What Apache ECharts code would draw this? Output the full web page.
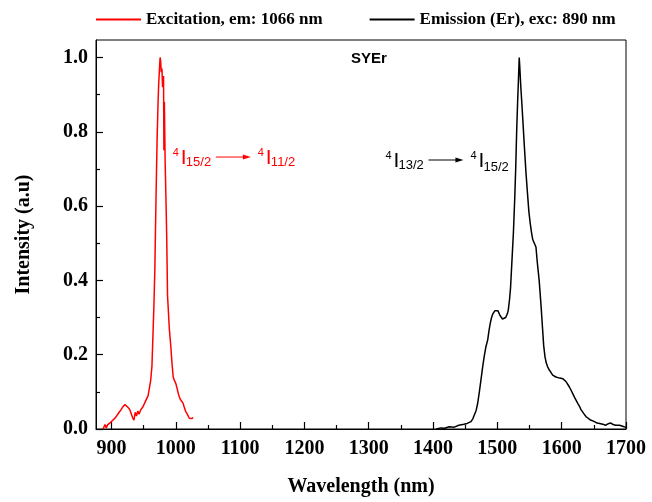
<!DOCTYPE html>
<html>
<head>
<meta charset="utf-8">
<script src="https://cdn.jsdelivr.net/npm/echarts@6/dist/echarts.min.js"></script>
<style>
  html, body { margin: 0; padding: 0; background: #fff; }
  #chart { width: 652px; height: 502px; }
</style>
</head>
<body>
<div id="chart"></div>
<script>
// excitation spectrum (em: 1066 nm)
const excWavelength = [887, 890, 892, 894, 897, 900, 903, 906, 909, 912, 915, 918, 921, 924, 927, 929, 931, 933, 935, 937,
  939, 941, 943, 945, 947, 949, 951, 953, 955, 957, 959, 961, 963, 964.5, 966, 967.5, 968.5, 969.5, 971, 972.5,
  973.5, 975, 975.7, 976.5, 977.5, 978.5, 979.5, 981, 981.6, 982.3, 983.5, 985, 986, 987.2, 990, 992.4, 994, 996, 998, 1000,
  1002, 1004, 1005.5, 1007, 1009, 1011.5, 1013, 1015.5, 1018, 1021, 1023.5, 1025, 1027];
const excIntensity = [0.0, 0.012, 0.003, 0.011, 0.008, 0.02, 0.018, 0.03, 0.035, 0.045, 0.052, 0.06, 0.066, 0.062, 0.056, 0.05, 0.045, 0.03, 0.024, 0.045,
  0.035, 0.048, 0.04, 0.05, 0.045, 0.06, 0.062, 0.075, 0.08, 0.09, 0.11, 0.13, 0.17, 0.25, 0.33, 0.43, 0.54, 0.64, 0.78, 0.88,
  0.93, 0.98, 1.0, 0.99, 0.96, 0.97, 0.92, 0.95, 0.75, 0.88, 0.72, 0.6, 0.51, 0.36, 0.27, 0.22, 0.18, 0.14, 0.13, 0.123,
  0.11, 0.095, 0.087, 0.08, 0.075, 0.069, 0.06, 0.047, 0.04, 0.029, 0.024, 0.028, 0.031];

// emission spectrum (Er, exc: 890 nm)
const emWavelength = [1405, 1412, 1418, 1425, 1433, 1440, 1448, 1453, 1459, 1462, 1464, 1467, 1469.5, 1472, 1474.5, 1477, 1479.5, 1482, 1485, 1487,
  1489, 1491, 1493, 1496, 1499, 1501, 1503.5, 1505.5, 1508, 1510.5, 1513, 1515.5, 1517, 1519, 1520.5, 1522, 1523.5, 1525, 1527, 1528.5,
  1530, 1531.5, 1533, 1534, 1535, 1536.5, 1538.3, 1540, 1542, 1544.5, 1547, 1549, 1551, 1553, 1555, 1557, 1560, 1562, 1565, 1568,
  1570.4, 1572, 1574, 1576, 1578, 1581, 1583.5, 1586, 1589, 1591, 1594, 1597, 1600, 1602, 1605, 1607, 1609, 1612, 1615, 1617,
  1620, 1622.5, 1625, 1628, 1630, 1632.6, 1635, 1638, 1640.4, 1644, 1647, 1651, 1655, 1659, 1664, 1668, 1672, 1676.7, 1680, 1684,
  1687, 1690, 1693, 1697, 1700];
const emIntensity = [0.0, 0.003, 0.002, 0.006, 0.005, 0.01, 0.013, 0.015, 0.02, 0.028, 0.033, 0.05, 0.07, 0.1, 0.132, 0.165, 0.195, 0.22, 0.24, 0.265,
  0.285, 0.3, 0.31, 0.318, 0.322, 0.318, 0.308, 0.302, 0.296, 0.294, 0.3, 0.31, 0.32, 0.35, 0.38, 0.43, 0.48, 0.53, 0.62, 0.7,
  0.8, 0.88, 0.95, 1.0, 0.97, 0.92, 0.87, 0.82, 0.76, 0.69, 0.63, 0.585, 0.555, 0.53, 0.51, 0.505, 0.49, 0.45, 0.4, 0.33,
  0.267, 0.225, 0.195, 0.178, 0.168, 0.158, 0.152, 0.145, 0.143, 0.14, 0.14, 0.137, 0.138, 0.135, 0.13, 0.127, 0.123, 0.113, 0.103, 0.096,
  0.085, 0.077, 0.069, 0.06, 0.052, 0.047, 0.04, 0.033, 0.029, 0.025, 0.022, 0.02, 0.016, 0.015, 0.013, 0.01, 0.014, 0.016, 0.012, 0.01,
  0.008, 0.01, 0.007, 0.006, 0.005];

const xMajorTicks = [900, 1000, 1100, 1200, 1300, 1400, 1500, 1600, 1700];
const xMinorTicks = [950, 1050, 1150, 1250, 1350, 1450, 1550, 1650];
const yMajorTicks = [0, 0.2, 0.4, 0.6, 0.8, 1.0];
const yMinorTicks = [0.1, 0.3, 0.5, 0.7, 0.9];

const excName = 'Excitation, em: 1066 nm';
const emName = 'Emission (Er), exc: 890 nm';

const SERIF = 'Liberation Serif';
const SANS = 'Liberation Sans';

const zip = (xs, ys) => xs.map((x, i) => [x, ys[i]]);

const chart = echarts.init(document.getElementById('chart'));

const xRange = { min: 876, max: 1700 };
const yRange = { min: 0, max: 1.047 };

const option = {
  animation: false,
  backgroundColor: '#fff',
  title: {
    text: 'SYEr',
    left: 351,
    top: 51,
    padding: 0,
    textStyle: { fontFamily: SANS, fontWeight: 'bold', fontSize: 15, color: '#000' }
  },
  legend: {
    left: 96,
    top: 11,
    padding: 0,
    icon: 'rect',
    itemWidth: 45,
    itemHeight: 2,
    itemGap: 47,
    data: [excName, emName],
    textStyle: { fontFamily: SERIF, fontWeight: 'bold', fontSize: 17, color: '#000' }
  },
  grid: {
    left: 96, right: 26, top: 40, bottom: 73,
    show: true, borderColor: '#000', borderWidth: 1, backgroundColor: 'transparent'
  },
  xAxis: [
    {
      type: 'value', ...xRange,
      name: 'Wavelength (nm)', nameLocation: 'middle', nameGap: 48,
      nameTextStyle: { fontFamily: SERIF, fontWeight: 'bold', fontSize: 20, color: '#000' },
      axisLine: { show: true, onZero: false, lineStyle: { color: '#000', width: 1 } },
      axisTick: { show: true, inside: true, length: 7, customValues: xMajorTicks, lineStyle: { color: '#000', width: 1.2 } },
      axisLabel: {
        customValues: xMajorTicks, margin: 10,
        formatter: v => String(v),
        fontFamily: SERIF, fontWeight: 'bold', fontSize: 20, color: '#000'
      },
      splitLine: { show: false }
    },
    {
      type: 'value', ...xRange, position: 'bottom',
      axisLine: { show: false, onZero: false },
      axisTick: { show: true, inside: true, length: 4, customValues: xMinorTicks, lineStyle: { color: '#000', width: 1.2 } },
      axisLabel: { show: false },
      splitLine: { show: false }
    }
  ],
  yAxis: [
    {
      type: 'value', ...yRange,
      name: 'Intensity (a.u)', nameLocation: 'middle', nameGap: 62,
      nameTextStyle: { fontFamily: SERIF, fontWeight: 'bold', fontSize: 20, color: '#000' },
      axisLine: { show: true, onZero: false, lineStyle: { color: '#000', width: 1 } },
      axisTick: { show: true, inside: true, length: 7, customValues: yMajorTicks, lineStyle: { color: '#000', width: 1.2 } },
      axisLabel: {
        customValues: yMajorTicks, margin: 8,
        formatter: v => v.toFixed(1),
        fontFamily: SERIF, fontWeight: 'bold', fontSize: 20, color: '#000'
      },
      splitLine: { show: false }
    },
    {
      type: 'value', ...yRange, position: 'left',
      axisLine: { show: false, onZero: false },
      axisTick: { show: true, inside: true, length: 4, customValues: yMinorTicks, lineStyle: { color: '#000', width: 1.2 } },
      axisLabel: { show: false },
      splitLine: { show: false }
    }
  ],
  series: [
    {
      name: excName, type: 'line', showSymbol: false, symbol: 'none',
      xAxisIndex: 0, yAxisIndex: 0,
      data: zip(excWavelength, excIntensity),
      itemStyle: { color: '#ff0000' },
      lineStyle: { color: '#ff0000', width: 1.5 }
    },
    {
      name: emName, type: 'line', showSymbol: false, symbol: 'none',
      xAxisIndex: 0, yAxisIndex: 0,
      data: zip(emWavelength, emIntensity),
      itemStyle: { color: '#000' },
      lineStyle: { color: '#000', width: 1.5 }
    }
  ]
};

chart.setOption(option);

// 能级跃迁标注  4I(a) -> 4I(b)
function transitionLabel(anchor, color, from, to, dy) {
  const [ox, oy] = chart.convertToPixel({ xAxisIndex: 0, yAxisIndex: 0 }, anchor);
  const txt = (t, x, y, size) => ({
    type: 'text', x, y,
    style: { text: t, font: `${size}px ${SANS}`, fill: color, align: 'left', verticalAlign: 'middle' }
  });
  const level = (x, sub, subDy) => [
    txt('4', x, -4, 11),
    txt('I', x + 8, 1, 21),
    txt(sub, x + 13, 5 + subDy, 13)
  ];
  return {
    type: 'group', x: ox, y: oy,
    children: [
      ...level(0, from, 0),
      { type: 'line', shape: { x1: 43, y1: 0, x2: 72, y2: 0 }, style: { stroke: color, lineWidth: 1 } },
      { type: 'polygon', shape: { points: [[78, 0], [70, -2.5], [70, 2.5]] }, style: { fill: color } },
      ...level(85, to, dy)
    ]
  };
}

chart.setOption({
  graphic: [
    transitionLabel([995.5, 0.732], '#ff0000', '15/2', '11/2', 0),
    transitionLabel([1326, 0.724], '#000', '13/2', '15/2', 2)
  ]
});
</script>
</body>
</html>
